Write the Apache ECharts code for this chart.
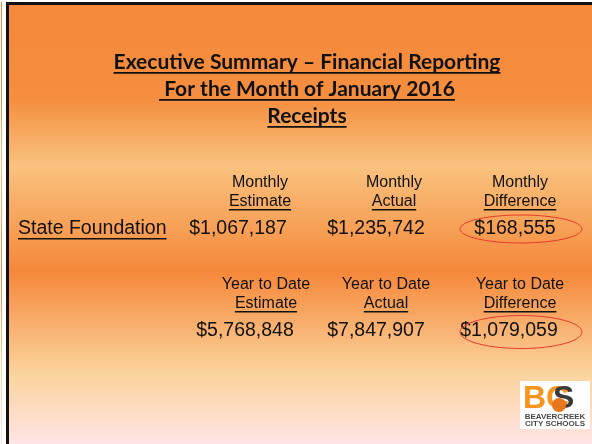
<!DOCTYPE html>
<html><head><meta charset="utf-8">
<script src="https://cdn.jsdelivr.net/npm/echarts@6/dist/echarts.min.js"></script>
<style>html,body{margin:0;padding:0;background:#fff}#c{width:592px;height:444px}</style>
</head><body><div id="c"></div>
<script>
var titleLines = ["Executive Summary \u2013 Financial Reporting", " For the Month of January 2016", "Receipts"];
var rowLabel = "State Foundation";
var monthlyHeaders = [["Monthly","Estimate"],["Monthly","Actual"],["Monthly","Difference"]];
var monthlyValues = ["$1,067,187","$1,235,742","$168,555"];
var ytdHeaders = [["Year to Date","Estimate"],["Year to Date","Actual"],["Year to Date","Difference"]];
var ytdValues = ["$5,768,848","$7,847,907","$1,079,059"];

var chart = echarts.init(document.getElementById('c'), null, {renderer:'canvas'});
var cv = document.createElement('canvas').getContext('2d');
function tw(t, font){ cv.font = font; return cv.measureText(t).width; }

var BODY = 'Liberation Sans, Arial, sans-serif';
var TITLE = 'bold 21px Lato, sans-serif';
var g = [];
// background
g.push({type:'rect', shape:{x:0,y:0,width:592,height:444}, style:{fill:'#ffffff'}, silent:true});
g.push({type:'rect', shape:{x:1,y:2,width:591,height:442}, silent:true, style:{fill:{type:'linear',x:0,y:0,x2:0,y2:1,colorStops:[
  {offset:0,color:'#f5883a'},{offset:0.22,color:'#f58e3f'},{offset:0.37,color:'#f9c27e'},
  {offset:0.61,color:'#f5883a'},{offset:0.84,color:'#fbd39c'},{offset:1,color:'#fee5e6'}]}}});
g.push({type:'rect', shape:{x:2,y:2,width:4,height:442}, style:{fill:'#ffffff'}, silent:true});
// border
g.push({type:'rect', shape:{x:6,y:2,width:586,height:3}, style:{fill:'#111'}, silent:true});
g.push({type:'rect', shape:{x:6,y:2,width:3,height:442}, style:{fill:'#111'}, silent:true});

function text(t, x, y, font, align, ul, ulOff, ulW){
  g.push({type:'text', x:x, y:y, silent:true, style:{text:t, font:font, fill:'#111', textAlign:align, textVerticalAlign:'middle', align:align, verticalAlign:'middle'}});
  if(ul){
    var w = tw(t, font);
    var x0 = align==='center' ? x - w/2 : (align==='right' ? x - w : x);
    g.push({type:'rect', silent:true, shape:{x:x0, y:y+ulOff, width:w, height:ulW}, style:{fill:'#111'}});
  }
}
// title
var titleY = [62, 89, 116];
titleLines.forEach(function(t,i){ text(t, 307, titleY[i], TITLE, 'center', true, 10, 1.8); });

var HF = '16px ' + BODY, VF = '19.5px ' + BODY;
// monthly
var mhX = [260, 394, 520], mvX = [238, 376, 515];
monthlyHeaders.forEach(function(h,i){
  text(h[0], mhX[i], 183, HF, 'center', false);
  text(h[1], mhX[i], 202, HF, 'center', true, 7, 1.5);
  text(monthlyValues[i], mvX[i], 229, VF, 'center', false);
});
text(rowLabel, 18, 229, VF, 'left', true, 9, 1.5);
// ytd
var yhX = [266, 386, 520], yvX = [245, 376, 509];
ytdHeaders.forEach(function(h,i){
  text(h[0], yhX[i], 285, HF, 'center', false);
  text(h[1], yhX[i], 304, HF, 'center', true, 7, 1.5);
  text(ytdValues[i], yvX[i], 331, VF, 'center', false);
});
// ellipses
g.push({type:'ellipse', silent:true, shape:{cx:521, cy:229, rx:61, ry:14}, style:{fill:null, stroke:'#e8392c', lineWidth:1}});
g.push({type:'ellipse', silent:true, shape:{cx:521, cy:332, rx:61, ry:16.5}, style:{fill:null, stroke:'#e8392c', lineWidth:1}});
// logo
g.push({type:'rect', silent:true, shape:{x:520,y:381,width:70,height:48}, style:{fill:'#ffffff'}});
g.push({type:'text', silent:true, x:523, y:399, style:{text:'BC', font:'bold 32px Liberation Sans Narrow, Liberation Sans, Arial', fill:'#f7941e', textAlign:'left', textVerticalAlign:'middle', align:'left', verticalAlign:'middle'}});
g.push({type:'text', silent:true, x:553, y:399, style:{text:'S', font:'bold 32px Liberation Sans Narrow, Liberation Sans, Arial', fill:'#3a3a3a', textAlign:'left', textVerticalAlign:'middle', align:'left', verticalAlign:'middle'}});
g.push({type:'circle', silent:true, shape:{cx:559, cy:405, r:7}, style:{fill:'#e8761c'}});
g.push({type:'text', silent:true, x:555, y:417, style:{text:'BEAVERCREEK', font:'bold 8px Liberation Sans Narrow, Liberation Sans, Arial', fill:'#4a4a4a', textAlign:'center', textVerticalAlign:'middle', align:'center', verticalAlign:'middle'}});
g.push({type:'text', silent:true, x:555, y:424, style:{text:'CITY SCHOOLS', font:'bold 8px Liberation Sans Narrow, Liberation Sans, Arial', fill:'#4a4a4a', textAlign:'center', textVerticalAlign:'middle', align:'center', verticalAlign:'middle'}});

chart.setOption({animation:false, graphic:{elements:g}});
</script></body></html>
